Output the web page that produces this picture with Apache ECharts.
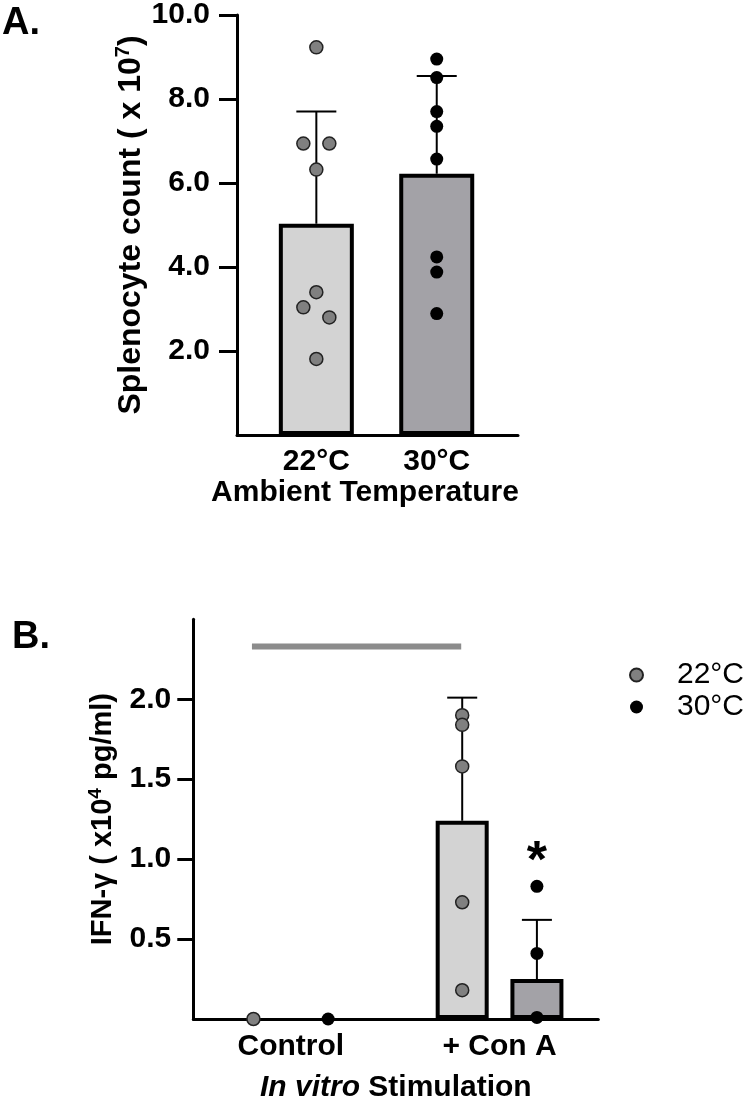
<!DOCTYPE html>
<html>
<head>
<meta charset="utf-8">
<script src="https://cdn.jsdelivr.net/npm/echarts@6/dist/echarts.min.js"></script>
<style>
  html, body { margin: 0; padding: 0; background: #fff; }
  #main { width: 748px; height: 1104px; }
</style>
</head>
<body>
<div id="main"></div>
<script>
// ---- data, panel A (splenocyte count, x 10^7) ----
var tempNames = ['22°C', '30°C'];
var countMean = [5.03, 6.22];
var countSD = [2.67, 2.33];
var count22 = [9.23, 6.94, 6.94, 6.32, 3.40, 3.04, 2.80, 1.81];
var count30 = [8.95, 8.51, 7.70, 7.35, 6.57, 4.24, 3.88, 2.89];
var yTicksA = [2, 4, 6, 8, 10];

// ---- data, panel B (IFN-γ, x 10^4 pg/ml) ----
var stimNames = ['Control', '+ Con A'];
var ifn22Mean = [0, 1.24];
var ifn22SD = [0, 0.77];
var ifn30Mean = [0, 0.25];
var ifn30SD = [0, 0.37];
var ifn22Points = [[0, 0], [1, 1.90], [1, 1.84], [1, 1.58], [1, 0.73], [1, 0.18]];
var ifn30Points = [[0, 0], [1, 0.83], [1, 0.41], [1, 0.01]];
var yTicksB = [0.5, 1, 1.5, 2];
var compareBar = [0, 1, 2.33];   // from group, to group, height
var sigMark = [1, 0.98];         // asterisk over 30°C + Con A

// ---- styles ----
var FONT = 'Liberation Sans, Arial, sans-serif';
var jitter22 = [0, -13, 13, 0, 0, -13, 13, 0];
var barColors = ['#d3d3d3', '#a3a2a7'];
var dotGray = '#808080';
var pairOffset = 37.35;

function errRender(offset, cap) {
    return function (params, api) {
        var x = api.value(0), m = api.value(1), sd = api.value(2);
        if (!sd) return;
        var b = api.coord([x, m]);
        var t = api.coord([x, m + sd]);
        var cx = b[0] + offset;
        var st = {stroke: '#000', lineWidth: 2};
        return {
            type: 'group',
            children: [
                {type: 'line', shape: {x1: cx, y1: b[1], x2: cx, y2: t[1]}, style: st},
                {type: 'line', shape: {x1: cx - cap / 2, y1: t[1], x2: cx + cap / 2, y2: t[1]}, style: st}
            ]
        };
    };
}

function meanData(means, sds) {
    return means.map(function (m, i) { return [i, m, sds[i]]; });
}

var axisLineStyle = {show: true, onZero: false, lineStyle: {color: '#000', width: 3}};
var boldText = {fontFamily: FONT, fontSize: 30, fontWeight: 'bold', color: '#000'};

var myChart = echarts.init(document.getElementById('main'));
var option = {
    backgroundColor: '#fff',
    animation: false,
    textStyle: {fontFamily: FONT},
    grid: [
        {left: 237, top: 14, width: 281, height: 421, containLabel: false},
        {left: 193.3, top: 619.3, width: 405, height: 404.2, containLabel: false}
    ],
    legend: {
        orient: 'vertical',
        left: 624,
        top: 654,
        icon: 'circle',
        itemWidth: 13,
        itemHeight: 13,
        itemGap: 0,
        selectedMode: false,
        data: ['22°C', '30°C'],
        formatter: function (n) { return '{pad|}' + n; },
        textStyle: {
            fontFamily: FONT, fontSize: 30, color: '#000', lineHeight: 32,
            rich: {pad: {width: 29}}
        }
    },
    graphic: [
        {type: 'text', left: 2, top: 5, style: {text: 'A.', font: 'bold 38px ' + FONT, fill: '#000'}},
        {type: 'text', left: 12, top: 619, style: {text: 'B.', font: 'bold 38px ' + FONT, fill: '#000'}}
    ],
    xAxis: [
        {
            gridIndex: 0, type: 'value', min: -0.659, max: 1.675,
            axisLine: axisLineStyle, axisTick: {show: false}, splitLine: {show: false},
            axisLabel: Object.assign({
                customValues: [0, 1], margin: 12,
                formatter: function (v) { return tempNames[Math.round(v)]; }
            }, boldText),
            name: 'Ambient Temperature', nameLocation: 'middle', nameGap: 40,
            nameTextStyle: Object.assign({padding: [0, 25, 0, 0]}, boldText)
        },
        {
            gridIndex: 1, type: 'value', min: -0.467, max: 1.473,
            axisLine: axisLineStyle, axisTick: {show: false}, splitLine: {show: false},
            axisLabel: Object.assign({
                customValues: [0, 1], margin: 13,
                formatter: function (v) { return stimNames[Math.round(v)]; }
            }, boldText),
            name: '{i|In vitro} Stimulation', nameLocation: 'middle', nameGap: 54,
            nameTextStyle: Object.assign({
                rich: {i: {fontFamily: FONT, fontSize: 30, fontWeight: 'bold', fontStyle: 'italic', color: '#000'}}
            }, boldText)
        }
    ],
    yAxis: [
        {
            gridIndex: 0, type: 'value', min: 0, max: 10, interval: 2,
            axisLine: axisLineStyle,
            axisTick: {show: true, length: 18, lineStyle: {color: '#000', width: 3}, customValues: yTicksA},
            splitLine: {show: false},
            axisLabel: Object.assign({
                customValues: yTicksA, margin: 27,
                formatter: function (v) { return v.toFixed(1); }
            }, boldText),
            name: 'Splenocyte count ( x 10{sup|7})', nameLocation: 'middle', nameGap: 84,
            nameTextStyle: {
                fontFamily: FONT, fontSize: 32, fontWeight: 'bold', color: '#000', lineHeight: 34,
                rich: {sup: {fontFamily: FONT, fontSize: 20, fontWeight: 'bold', color: '#000', verticalAlign: 'top', lineHeight: 34}}
            }
        },
        {
            gridIndex: 1, type: 'value', min: 0, max: 2.5, interval: 0.5,
            axisLine: axisLineStyle,
            axisTick: {show: true, length: 16, lineStyle: {color: '#000', width: 3}, customValues: yTicksB},
            splitLine: {show: false},
            axisLabel: Object.assign({
                customValues: yTicksB, margin: 22,
                formatter: function (v) { return v.toFixed(1); }
            }, boldText),
            name: 'IFN-γ ( x10{sup|4} pg/ml)', nameLocation: 'middle', nameGap: 67,
            nameTextStyle: {
                fontFamily: FONT, fontSize: 29, fontWeight: 'bold', color: '#000', lineHeight: 32,
                rich: {sup: {fontFamily: FONT, fontSize: 19, fontWeight: 'bold', color: '#000', verticalAlign: 'top', lineHeight: 32}}
            }
        }
    ],
    series: [
        // panel A
        {
            type: 'bar', xAxisIndex: 0, yAxisIndex: 0, barWidth: 75, barGap: '-100%', z: 2,
            data: countMean.map(function (m, i) {
                return {value: [i, m], itemStyle: {color: barColors[i], borderColor: '#000', borderWidth: 4}};
            })
        },
        {
            type: 'custom', xAxisIndex: 0, yAxisIndex: 0, z: 3,
            renderItem: errRender(0, 40), data: meanData(countMean, countSD)
        },
        {
            name: '22°C', type: 'scatter', xAxisIndex: 0, yAxisIndex: 0, z: 4, symbolSize: 13,
            itemStyle: {color: dotGray, borderColor: '#222', borderWidth: 1.5, opacity: 1},
            data: count22.map(function (v, i) { return {value: [0, v], symbolOffset: [jitter22[i], 0]}; })
        },
        {
            name: '30°C', type: 'scatter', xAxisIndex: 0, yAxisIndex: 0, z: 4, symbolSize: 13,
            itemStyle: {color: '#000', opacity: 1},
            data: count30.map(function (v) { return [1, v]; })
        },
        // panel B
        {
            type: 'bar', xAxisIndex: 1, yAxisIndex: 1, barWidth: 53, barGap: '41%', z: 2,
            itemStyle: {color: barColors[0], borderColor: '#000', borderWidth: 4},
            data: ifn22Mean.map(function (m, i) {
                return m ? [i, m] : {value: [i, m], itemStyle: {borderWidth: 0}};
            })
        },
        {
            type: 'bar', xAxisIndex: 1, yAxisIndex: 1, barWidth: 53, barGap: '41%', z: 2,
            itemStyle: {color: barColors[1], borderColor: '#000', borderWidth: 4},
            data: ifn30Mean.map(function (m, i) {
                return m ? [i, m] : {value: [i, m], itemStyle: {borderWidth: 0}};
            })
        },
        {
            type: 'custom', xAxisIndex: 1, yAxisIndex: 1, z: 3,
            renderItem: errRender(-pairOffset, 30), data: meanData(ifn22Mean, ifn22SD)
        },
        {
            type: 'custom', xAxisIndex: 1, yAxisIndex: 1, z: 3,
            renderItem: errRender(pairOffset, 30), data: meanData(ifn30Mean, ifn30SD)
        },
        {
            type: 'custom', xAxisIndex: 1, yAxisIndex: 1, z: 3,
            renderItem: function (params, api) {
                var a = api.coord([api.value(0), api.value(2)]);
                var b = api.coord([api.value(1), api.value(2)]);
                return {
                    type: 'line',
                    shape: {x1: a[0] - pairOffset - 1.5, y1: a[1], x2: b[0] - pairOffset - 1, y2: b[1]},
                    style: {stroke: '#8c8c8c', lineWidth: 6}
                };
            },
            data: [compareBar]
        },
        {
            name: '22°C', type: 'scatter', xAxisIndex: 1, yAxisIndex: 1, z: 4, symbolSize: 13,
            symbolOffset: [-pairOffset, 0],
            itemStyle: {color: dotGray, borderColor: '#222', borderWidth: 1.5, opacity: 1},
            data: ifn22Points
        },
        {
            name: '30°C', type: 'scatter', xAxisIndex: 1, yAxisIndex: 1, z: 4, symbolSize: 13,
            symbolOffset: [pairOffset, 0],
            itemStyle: {color: '#000', opacity: 1},
            data: ifn30Points
        },
        {
            type: 'custom', xAxisIndex: 1, yAxisIndex: 1, z: 5,
            renderItem: function (params, api) {
                var p = api.coord([api.value(0), api.value(1)]);
                return {
                    type: 'text',
                    x: p[0] + pairOffset,
                    y: p[1],
                    style: {
                        text: '*', fill: '#000', font: 'bold 52px ' + FONT,
                        align: 'center', verticalAlign: 'middle'
                    }
                };
            },
            data: [sigMark]
        }
    ]
};
myChart.setOption(option);
window.onresize = myChart.resize;
</script>
</body>
</html>
